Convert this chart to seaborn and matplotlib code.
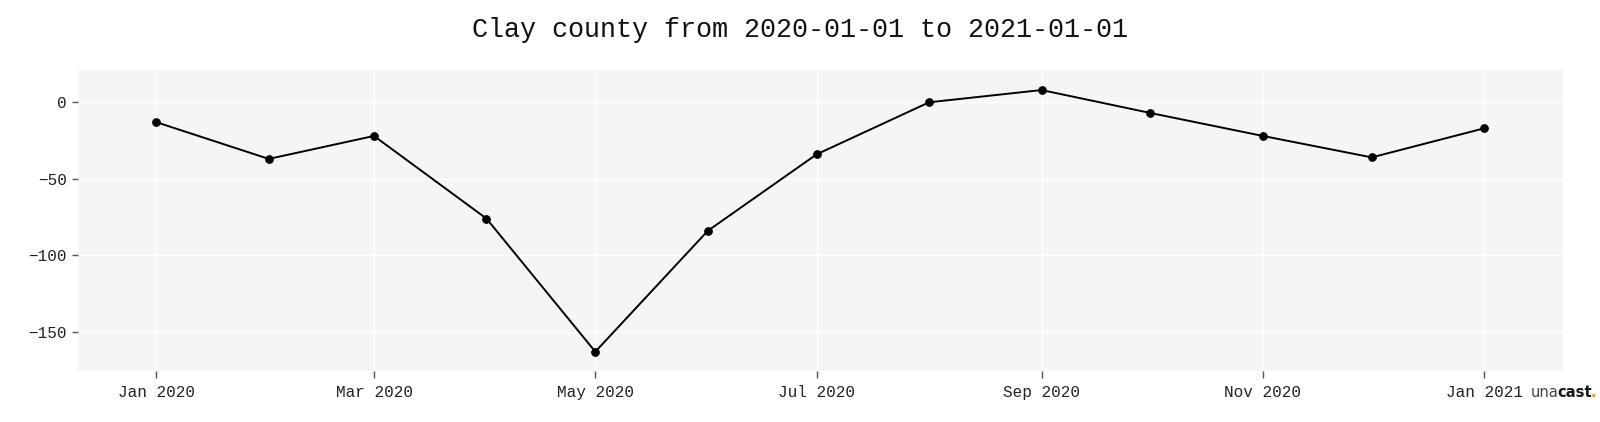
import matplotlib
matplotlib.use("Agg")
import matplotlib.pyplot as plt
import matplotlib.dates as mdates
import seaborn as sns
import pandas as pd

dates = ["2020-01-01", "2020-02-01", "2020-03-01", "2020-04-01", "2020-05-01",
         "2020-06-01", "2020-07-01", "2020-08-01", "2020-09-01", "2020-10-01",
         "2020-11-01", "2020-12-01", "2021-01-01"]
values = [-13, -37, -22, -76, -163, -84, -34, 0, 8, -7, -22, -36, -17]
y_ticks = [0, -50, -100, -150]
title = "Clay county from 2020-01-01 to 2021-01-01"

df = pd.DataFrame({"date": pd.to_datetime(dates), "value": values})

sns.set_theme(style="darkgrid")
mono = ["Liberation Mono", "DejaVu Sans Mono"]
plt.rcParams["font.family"] = ["DejaVu Sans"]

W, H = 1600, 422
fig = plt.figure(figsize=(W / 100, H / 100), dpi=100)
L, R, T, B = 77.7, 1563.3, 70, 370.7
ax = fig.add_axes([L / W, 1 - B / H, (R - L) / W, (B - T) / H])
ax.set_facecolor("#f4f5f7")

sns.lineplot(data=df, x="date", y="value", ax=ax, color="black", linewidth=1.4,
             marker="o", markersize=5.5, markeredgecolor="black")

ax.set_xlim(pd.Timestamp("2019-12-10 08:00"), pd.Timestamp("2021-01-22 19:00"))
ax.set_ylim(-175.4, 21.1)
ax.set_yticks(y_ticks)
ax.xaxis.set_major_locator(mdates.MonthLocator(bymonth=[1, 3, 5, 7, 9, 11]))
ax.xaxis.set_major_formatter(mdates.DateFormatter("%b %Y"))
ax.grid(True, color="white", linewidth=1)
for s in ax.spines.values():
    s.set_visible(False)
ax.set_xlabel("")
ax.set_ylabel("")
ax.tick_params(axis="x", length=5, width=1, color="#555555", labelsize=11.5,
               labelcolor="#222222", pad=5, bottom=True)
ax.tick_params(axis="y", length=4, width=1, color="#555555", labelsize=11.5,
               labelcolor="#222222", pad=4, left=True)
for lab in ax.get_xticklabels():
    lab.set_family(mono)
for lab in ax.get_yticklabels():
    lab.set_family(mono)

fig.text(0.5, 1 - 30 / H, title, ha="center", va="center", fontsize=19.3,
         family=mono, color="#111111")

# logo
fig.canvas.draw()
renderer = fig.canvas.get_renderer()
x0, ylog, fs = 1531.0, 392.5, 10.6
t1 = fig.text(x0 / W, 1 - ylog / H, "una", ha="left", va="center", fontsize=fs,
              color="#444444", family=["DejaVu Sans"])
w1 = t1.get_window_extent(renderer).width - 2.0
t2 = fig.text((x0 + w1) / W, 1 - ylog / H, "cast", ha="left", va="center",
              fontsize=fs, color="#1a1a1a", weight="bold", family=["DejaVu Sans"])
w2 = t2.get_window_extent(renderer).width - 1.5
fig.text((x0 + w1 + w2) / W, 1 - ylog / H, ".", ha="left", va="center",
         fontsize=fs, color="#f28c28", weight="bold", family=["DejaVu Sans"])

fig.savefig("out.png", dpi=100)
